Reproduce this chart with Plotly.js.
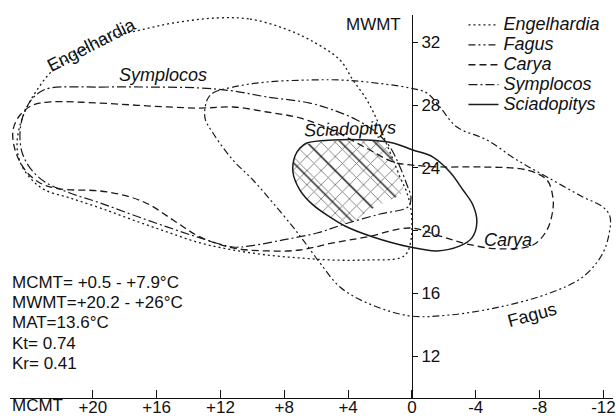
<!DOCTYPE html>
<html><head><meta charset="utf-8">
<script src="https://cdn.plot.ly/plotly-3.0.1.min.js"></script>
<style>html,body{margin:0;padding:0;background:#fff}#chart{width:616px;height:416px}</style>
</head><body><div id="chart"></div>
<script>
// MCMT (x, °C) and MWMT (y, °C) climate envelopes
const mcmtTicks = [20, 16, 12, 8, 4, 0, -4, -8, -12];
const mcmtTickText = ['+20', '+16', '+12', '+8', '+4', '0', '-4', '-8', '-12'];
const mwmtTicks = [12, 16, 20, 24, 28, 32];

const engelhardiaX = [12.22,10.15,8.08,6.39,4.51,3.70,2.82,2.19,1.69,1.25,0.75,0.31,0.06,0.00,0.06,0.31,0.75,2.82,4.95,7.02,9.09,11.22,13.28,15.35,17.48,19.55,21.43,23.00,23.93,24.56,24.75,24.56,24.12,23.50,22.68,21.62,20.36,18.92,17.04,14.97];
const engelhardiaY = [33.55,33.48,32.91,32.15,30.87,29.60,28.32,27.05,25.78,24.69,23.42,22.40,21.32,20.36,19.41,18.58,18.26,18.13,18.13,18.26,18.45,18.77,19.22,19.92,20.68,21.45,22.08,22.59,23.36,24.38,25.46,26.73,27.88,28.96,30.04,30.87,31.70,32.34,32.78,33.23];

const fagusX = [12.84,12.47,11.22,9.09,6.39,4.51,2.82,0.13,-0.94,-1.75,-2.82,-4.70,-6.58,-8.46,-10.71,-11.97,-12.41,-12.34,-11.90,-10.71,-8.65,-5.51,-2.38,0.13,2.82,4.51,5.76,6.83,7.46,8.71,9.96,11.22,12.47,12.97];
const fagusY = [28.32,28.77,29.15,29.47,29.60,29.60,29.47,29.09,28.77,27.88,26.60,25.78,24.50,23.42,22.15,21.51,20.89,19.73,18.45,17.05,16.03,15.14,14.63,14.57,15.40,16.41,17.94,19.41,20.24,21.77,23.23,24.50,26.22,27.18];

const caryaX = [22.68,19.55,16.42,13.28,11.22,9.09,7.02,4.95,2.82,1.19,0.00,-1.75,-4.26,-7.21,-8.46,-8.83,-8.83,-8.46,-7.58,-5.51,-3.45,-1.75,0.13,2.82,4.95,7.02,9.09,11.22,13.28,14.97,16.42,17.67,19.55,22.06,23.31,24.25,24.87,25.00,24.56,23.75];
const caryaY = [28.20,28.13,27.94,27.81,27.88,27.56,27.18,26.39,25.24,24.38,24.18,24.06,24.06,23.86,23.23,22.15,21.32,20.04,19.09,18.84,19.15,19.66,20.17,19.60,19.22,18.77,18.71,18.90,19.60,20.68,21.64,22.15,22.53,22.66,23.04,23.87,25.14,26.41,27.37,28.01];

const symplocosX = [22.68,19.55,16.42,13.28,11.22,9.09,6.39,4.95,3.45,2.19,1.38,0.75,0.31,0.06,0.25,2.00,4.20,5.95,8.08,10.15,11.22,13.28,15.35,17.48,19.55,21.43,23.00,23.93,24.44,24.56,24.31,23.81,23.31];
const symplocosY = [29.09,29.15,29.15,29.09,28.90,28.52,28.13,27.69,27.05,26.22,25.33,24.06,22.91,22.08,21.51,21.06,20.43,19.85,19.41,19.03,18.96,19.54,20.24,21.00,21.77,22.40,23.10,23.99,25.01,26.29,27.50,28.39,28.83];

const sciadopitysX = [6.58,4.95,2.82,1.19,-0.06,-1.32,-2.38,-3.20,-3.82,-4.07,-3.76,-3.01,-1.57,0.13,2.44,4.20,5.14,6.20,7.02,7.46,7.33,7.02];
const sciadopitysY = [25.59,25.78,25.78,25.59,25.14,24.69,23.74,22.59,21.64,20.55,19.54,19.03,18.71,18.96,19.60,20.30,20.87,21.64,22.59,23.74,24.76,25.27];

// coexistence interval (hatched)
const overlapX = [6.83,4.95,2.82,1.82,1.25,0.88,0.56,0.69,1.69,2.63,4.07,5.14,6.20,7.02,7.46,7.33];
const overlapY = [25.40,25.71,25.71,25.59,24.69,23.74,22.78,22.34,21.83,21.32,20.43,20.87,21.64,22.59,23.74,24.76];

const statLines = ['MCMT= +0.5 - +7.9°C', 'MWMT=+20.2 - +26°C', 'MAT=13.6°C', 'Kt= 0.74', 'Kr= 0.41'];

const closeLoop = a => a.concat([a[0]]);
const ink = '#1a1a1a';
const FONT = 'Liberation Sans, Arial, Helvetica, sans-serif';

function outline(name, xs, ys, dash, width) {
  return {
    type: 'scatter', mode: 'lines',
    name: '<span style="font-size:18px">' + name + '</span>',
    x: closeLoop(xs), y: closeLoop(ys),
    line: {color: ink, width: width, dash: dash, shape: 'spline', smoothing: 1},
    hoverinfo: 'skip'
  };
}

const traces = [
  {type: 'scatter', mode: 'lines', x: closeLoop(overlapX), y: closeLoop(overlapY),
   line: {width: 0, shape: 'spline', smoothing: 1}, fill: 'toself', fillcolor: 'rgba(0,0,0,0)',
   fillpattern: {shape: 'x', size: 10, solidity: 0.17, fgcolor: '#7a7a7a', bgcolor: 'rgba(0,0,0,0)', fgopacity: 1},
   showlegend: false, hoverinfo: 'skip'},
  {type: 'scatter', mode: 'lines', x: closeLoop(overlapX), y: closeLoop(overlapY),
   line: {width: 0, shape: 'spline', smoothing: 1}, fill: 'toself', fillcolor: 'rgba(0,0,0,0)',
   fillpattern: {shape: '\\', size: 24, solidity: 0.058, fgcolor: '#1a1a1a', bgcolor: 'rgba(0,0,0,0)', fgopacity: 1},
   showlegend: false, hoverinfo: 'skip'},
  outline('Engelhardia', engelhardiaX, engelhardiaY, '2px,3px', 1.3),
  outline('Fagus', fagusX, fagusY, '7px,3px,2px,3px,2px,3px', 1.2),
  outline('Carya', caryaX, caryaY, '7px,4px', 1.3),
  outline('Symplocos', symplocosX, symplocosY, '9px,3px,2px,3px', 1.2),
  outline('Sciadopitys', sciadopitysX, sciadopitysY, 'solid', 1.5)
];

const statY = [0.302, 0.250, 0.196, 0.143, 0.091];
const annotations = statLines.map((t, i) => ({
  xref: 'paper', yref: 'paper', x: 0.0, y: statY[i], xanchor: 'left', yanchor: 'middle',
  text: t, showarrow: false, font: {size: 17, color: '#111'}
}));

function curveLabel(text, x, y, angle, italic) {
  return {xref: 'x', yref: 'y', x: x, y: y, text: text, showarrow: false, textangle: angle,
          xanchor: 'center', yanchor: 'middle',
          font: {size: 18, color: '#111', style: italic ? 'italic' : 'normal'}};
}
annotations.push(
  curveLabel('Engelhardia', 20.1, 31.85, -27, false),
  curveLabel('Symplocos', 15.6, 29.92, 0, true),
  curveLabel('Sciadopitys', 3.9, 26.45, -2, true),
  curveLabel('Carya', -6.0, 19.41, 0, true),
  curveLabel('Fagus', -7.5, 14.65, -15, false),
  {xref: 'paper', yref: 'paper', x: 0.6517, y: 0.974, xanchor: 'right', yanchor: 'middle',
   text: 'MWMT', showarrow: false, font: {size: 17, color: '#111'}},
  {xref: 'paper', yref: 'paper', x: 0.0, y: -0.019, xanchor: 'left', yanchor: 'middle',
   text: 'MCMT', showarrow: false, font: {size: 17, color: '#111'}}
);

const layout = {
  width: 616, height: 416,
  margin: {l: 10, r: 3, t: 15, b: 18, pad: 0},
  paper_bgcolor: '#ffffff', plot_bgcolor: 'rgba(0,0,0,0)',
  font: {family: FONT, size: 17, color: '#111'},
  showlegend: true,
  legend: {x: 0.752, y: 1.013, xanchor: 'left', yanchor: 'top', bgcolor: 'rgba(0,0,0,0)',
           borderwidth: 0, font: {size: 13, style: 'italic', color: '#111'}, tracegroupgap: 0},
  xaxis: {range: [25.19, -12.6], tickvals: mcmtTicks, ticktext: mcmtTickText,
          ticks: 'inside', ticklen: 8, tickwidth: 1, tickcolor: '#111',
          showline: true, linecolor: '#111', linewidth: 1, showgrid: false, zeroline: false,
          ticklabelstandoff: -6,
          automargin: false, tickfont: {size: 17, color: '#111'}, fixedrange: true},
  yaxis: {range: [9.34, 33.74], tickvals: mwmtTicks, anchor: 'free', position: 0.6667, side: 'right',
          ticks: 'outside', ticklen: 5, tickwidth: 1, tickcolor: '#111',
          showline: true, linecolor: '#111', linewidth: 1, showgrid: false, zeroline: false,
          automargin: false, tickfont: {size: 17, color: '#111'}, fixedrange: true},
  annotations: annotations
};

Plotly.newPlot('chart', traces, layout, {displayModeBar: false, staticPlot: true});
</script>
</body></html>
